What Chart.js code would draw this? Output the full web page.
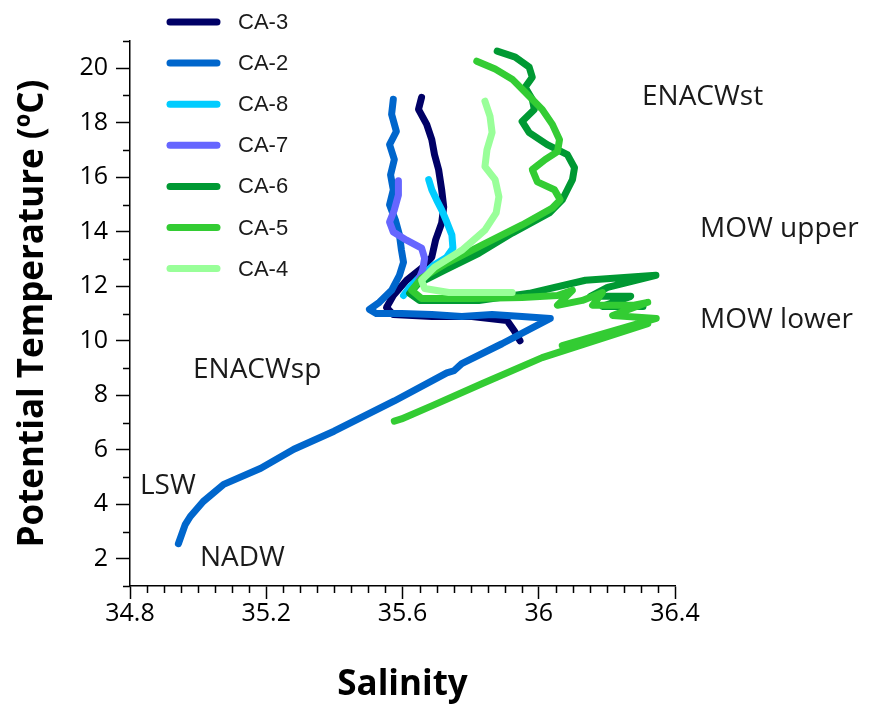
<!DOCTYPE html>
<html>
<head>
<meta charset="utf-8">
<script src="https://cdn.jsdelivr.net/npm/chart.js@4.4.0/dist/chart.umd.min.js"></script>
<style>
    html, body { margin: 0; padding: 0; background: #fff; }
    #wrap { width: 872px; height: 706px; }
</style>
</head>
<body>
<div id="wrap"><canvas id="tsChart" width="872" height="706"></canvas></div>
<script>
// Station profiles: salinity and potential temperature
const ca3Sal  = [35.656, 35.647, 35.671, 35.686, 35.694, 35.706, 35.715, 35.721, 35.715, 35.697, 35.686, 35.656, 35.612, 35.573, 35.553, 35.573, 35.686, 35.804, 35.907, 35.928, 35.945];
const ca3Temp = [18.93, 18.49, 17.94, 17.38, 16.83, 16.28, 15.54, 14.91, 14.32, 13.69, 13.07, 12.66, 12.22, 11.66, 11.22, 10.96, 10.89, 10.89, 10.74, 10.37, 10.00];

const ca2Sal  = [35.573, 35.568, 35.582, 35.562, 35.576, 35.565, 35.573, 35.562, 35.579, 35.591, 35.597, 35.603, 35.591, 35.568, 35.532, 35.503, 35.523, 35.597, 35.686, 35.774, 35.863, 35.951, 36.034, 35.892, 35.774, 35.751, 35.730, 35.576, 35.399, 35.281, 35.184, 35.075, 35.015, 34.977, 34.962, 34.942];
const ca2Temp = [18.86, 18.31, 17.68, 17.20, 16.65, 16.09, 15.54, 14.99, 14.43, 13.88, 13.32, 12.88, 12.40, 11.85, 11.41, 11.15, 11.00, 11.00, 10.96, 10.89, 10.96, 10.89, 10.82, 9.89, 9.16, 8.90, 8.82, 7.79, 6.68, 6.02, 5.32, 4.73, 4.10, 3.55, 3.25, 2.55];

const ca8Sal  = [35.677, 35.686, 35.700, 35.715, 35.730, 35.745, 35.748, 35.730, 35.692, 35.650, 35.621, 35.603];
const ca8Temp = [15.91, 15.54, 15.17, 14.80, 14.36, 13.88, 13.40, 13.07, 12.77, 12.33, 11.96, 11.66];

const ca7Sal  = [35.588, 35.588, 35.576, 35.562, 35.573, 35.612, 35.656, 35.665, 35.659, 35.647];
const ca7Temp = [15.87, 15.35, 14.80, 14.36, 13.99, 13.69, 13.40, 13.03, 12.59, 12.22];

const ca6Sal  = [35.878, 35.931, 35.972, 35.981, 35.960, 35.981, 35.987, 35.951, 35.972, 36.025, 36.084, 36.105, 36.099, 36.084, 36.069, 36.031, 35.922, 35.824, 35.724, 35.647, 35.621, 35.650, 35.824, 35.972, 36.137, 36.344, 36.202, 36.152, 36.270, 36.187, 36.306];
const ca6Temp = [20.63, 20.41, 20.04, 19.67, 19.30, 18.86, 18.49, 18.05, 17.64, 17.20, 16.83, 16.35, 15.91, 15.54, 15.17, 14.69, 13.95, 13.21, 12.59, 12.11, 11.74, 11.48, 11.48, 11.74, 12.22, 12.40, 11.96, 11.63, 11.63, 11.26, 11.26];

const ca5Sal  = [35.818, 35.872, 35.922, 35.972, 36.010, 36.040, 36.061, 36.055, 36.019, 35.981, 35.996, 36.046, 36.063, 36.040, 35.951, 35.833, 35.730, 35.656, 35.627, 35.656, 35.804, 35.951, 36.055, 36.099, 36.055, 36.128, 36.187, 36.158, 36.276, 36.320, 36.217, 36.345, 36.069, 36.320, 36.010, 35.833, 35.686, 35.597, 35.576];
const ca5Temp = [20.26, 19.97, 19.60, 18.97, 18.49, 17.94, 17.38, 16.94, 16.65, 16.28, 15.83, 15.54, 15.17, 14.87, 14.25, 13.51, 12.85, 12.29, 11.85, 11.55, 11.55, 11.59, 11.66, 11.85, 11.30, 11.48, 11.77, 11.30, 11.30, 11.41, 10.93, 10.82, 9.82, 10.63, 9.38, 8.42, 7.61, 7.13, 7.05];

const ca4Sal  = [35.842, 35.857, 35.863, 35.848, 35.842, 35.872, 35.883, 35.875, 35.842, 35.774, 35.694, 35.656, 35.665, 35.736, 35.833, 35.922];
const ca4Temp = [18.79, 18.23, 17.64, 17.01, 16.39, 15.91, 15.28, 14.69, 14.06, 13.32, 12.70, 12.22, 11.92, 11.77, 11.77, 11.77];

const stationNames  = ['CA-3', 'CA-2', 'CA-8', 'CA-7', 'CA-6', 'CA-5', 'CA-4'];
const stationColors = ['#000066', '#0066cc', '#00ccff', '#6666ff', '#009933', '#33cc33', '#99ff99'];
const profileSal  = [ca3Sal, ca2Sal, ca8Sal, ca7Sal, ca6Sal, ca5Sal, ca4Sal];
const profileTemp = [ca3Temp, ca2Temp, ca8Temp, ca7Temp, ca6Temp, ca5Temp, ca4Temp];

// Axis ticks
const salinityTicks    = [34.8, 35.2, 35.6, 36.0, 36.4];
const temperatureTicks = [2, 4, 6, 8, 10, 12, 14, 16, 18, 20];

// Water mass labels
const waterMasses = ['ENACWst', 'MOW upper', 'MOW lower', 'ENACWsp', 'LSW', 'NADW'];

const tickFont  = { family: 'Open Sans', size: 25 };
const titleFont = { family: 'Open Sans', size: 35, weight: 'bold' };

// minor ticks, legend and water mass text
const decorPlugin = {
    id: 'decor',
    afterDraw(chart) {
        const ctx = chart.ctx;
        const xs = chart.scales.x;
        const ys = chart.scales.y;
        ctx.save();
        ctx.strokeStyle = '#000';
        ctx.lineWidth = 1.5;
        ctx.beginPath();
        for (let k = 0; k <= 32; k++) {
            if (k % 8 === 0) continue;
            const px = Math.round(xs.getPixelForValue(34.8 + k * 0.05)) + 0.5;
            ctx.moveTo(px, ys.bottom);
            ctx.lineTo(px, ys.bottom + 7);
        }
        for (let t = 1; t <= 21; t += 2) {
            const py = Math.round(ys.getPixelForValue(t)) + 0.5;
            ctx.moveTo(xs.left - 7, py);
            ctx.lineTo(xs.left, py);
        }
        ctx.stroke();

        // legend
        ctx.lineCap = 'round';
        ctx.lineWidth = 7;
        ctx.font = '22px "Liberation Sans"';
        ctx.textBaseline = 'middle';
        ctx.textAlign = 'left';
        stationNames.forEach((name, i) => {
            const y = 22 + i * 41.1;
            ctx.strokeStyle = stationColors[i];
            ctx.beginPath();
            ctx.moveTo(170, y);
            ctx.lineTo(217, y);
            ctx.stroke();
            ctx.fillStyle = '#1a1a1a';
            ctx.fillText(name, 238, y + 1);
        });

        // water mass names
        const spots = [[642, 97], [700, 229], [700, 320], [193, 370], [140, 486], [200, 558]];
        ctx.font = '28px "Open Sans"';
        ctx.fillStyle = '#1a1a1a';
        waterMasses.forEach((txt, i) => {
            ctx.fillText(txt, spots[i][0], spots[i][1]);
        });
        ctx.restore();
    }
};

const datasets = stationNames.map((name, i) => ({
    label: name,
    data: profileSal[i].map((s, k) => ({ x: s, y: profileTemp[i][k] })),
    borderColor: stationColors[i],
    backgroundColor: stationColors[i],
    borderWidth: 7,
    borderCapStyle: 'round',
    borderJoinStyle: 'round',
    showLine: true,
    pointRadius: 0,
    order: stationNames.length - i
}));

const chart = new Chart(document.getElementById('tsChart').getContext('2d'), {
    type: 'scatter',
    data: { datasets: datasets },
    options: {
        responsive: false,
        animation: false,
        layout: { padding: { top: 41, right: 197, bottom: 0, left: 0 } },
        plugins: {
            legend: { display: false },
            tooltip: { enabled: false }
        },
        scales: {
            x: {
                type: 'linear',
                min: 34.8,
                max: 36.4,
                afterBuildTicks: s => { s.ticks = salinityTicks.map(v => ({ value: v })); },
                afterFit: s => { s.height = 120; },
                grid: { display: true, drawOnChartArea: false, drawTicks: true, tickLength: 13, tickColor: '#000', tickWidth: 1.5 },
                border: { display: true, color: '#000', width: 1.5 },
                ticks: {
                    color: '#000', font: tickFont, padding: 0, maxRotation: 0, autoSkip: false,
                    callback: v => String(+Number(v).toFixed(2))
                },
                title: { display: true, text: 'Salinity', color: '#000', font: titleFont, padding: 0 }
            },
            y: {
                type: 'linear',
                min: 1,
                max: 21,
                afterBuildTicks: s => { s.ticks = temperatureTicks.map(v => ({ value: v })); },
                afterFit: s => { s.width = 130; },
                grid: { display: true, drawOnChartArea: false, drawTicks: true, tickLength: 14, tickColor: '#000', tickWidth: 1.5 },
                border: { display: true, color: '#000', width: 1.5 },
                ticks: { color: '#000', font: tickFont, padding: 8, autoSkip: false },
                title: { display: true, text: 'Potential Temperature (ºC)', color: '#000', font: titleFont, padding: 12 }
            }
        }
    },
    plugins: [decorPlugin]
});
</script>
</body>
</html>
